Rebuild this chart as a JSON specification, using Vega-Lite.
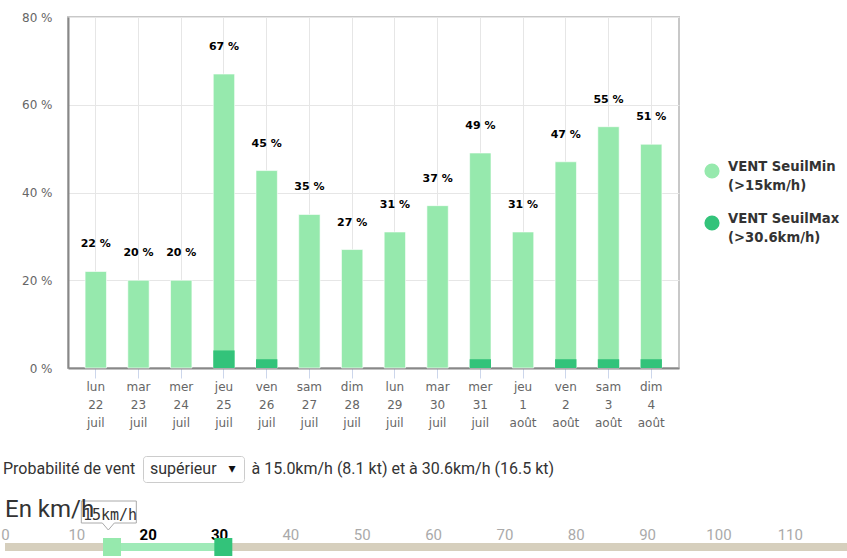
{
  "$schema": "https://vega.github.io/schema/vega-lite/v6.json",
  "padding": {"left": 0, "top": 10, "right": 0, "bottom": 0},
  "background": "#ffffff",
  "spacing": 15,
  "config": {"style": {"guide-label": {"lineHeight": 19}}},
  "vconcat": [
    {
      "spacing": 0,
      "hconcat": [
        {
          "width": 1,
          "height": 1,
          "view": {"stroke": null},
          "data": {"values": []},
          "mark": {"type": "point", "opacity": 0},
          "encoding": {}
        },
        {
          "width": 611,
          "height": 351,
          "view": {"stroke": "#c8c8c8", "strokeWidth": 2},
          "data": {
            "values": [
              {"jour": "lun 22 juil", "min": 22, "max": 0},
              {"jour": "mar 23 juil", "min": 20, "max": 0},
              {"jour": "mer 24 juil", "min": 20, "max": 0},
              {"jour": "jeu 25 juil", "min": 67, "max": 4},
              {"jour": "ven 26 juil", "min": 45, "max": 2},
              {"jour": "sam 27 juil", "min": 35, "max": 0},
              {"jour": "dim 28 juil", "min": 27, "max": 0},
              {"jour": "lun 29 juil", "min": 31, "max": 0},
              {"jour": "mar 30 juil", "min": 37, "max": 0},
              {"jour": "mer 31 juil", "min": 49, "max": 2},
              {"jour": "jeu 1 août", "min": 31, "max": 0},
              {"jour": "ven 2 août", "min": 47, "max": 2},
              {"jour": "sam 3 août", "min": 55, "max": 2},
              {"jour": "dim 4 août", "min": 51, "max": 2}
            ]
          },
          "encoding": {
            "x": {
              "field": "jour",
              "type": "nominal",
              "sort": null,
              "scale": {"paddingInner": 0.5, "paddingOuter": 0.4},
              "axis": {
                "title": null,
                "labelAngle": 0,
                "labelExpr": "split(datum.value, ' ')",
                "labelFont": "DejaVu Sans",
                "labelFontSize": 12,
                "labelColor": "#666666",
                "labelLineHeight": 18,
                "labelPadding": 3,
                "tickColor": "#ccd6eb",
                "tickSize": 10,
                "domainColor": "#888888",
                "domainWidth": 2,
                "grid": true,
                "gridColor": "#e6e6e6",
                "minExtent": 71
              }
            }
          },
          "layer": [
            {
              "mark": {"type": "bar", "stroke": "#ffffff", "strokeWidth": 1, "strokeOpacity": 0.6},
              "encoding": {
                "y": {
                  "field": "min",
                  "type": "quantitative",
                  "scale": {"domain": [0, 80], "nice": false},
                  "axis": {
                    "title": null,
                    "values": [0, 20, 40, 60, 80],
                    "labelExpr": "datum.value + ' %'",
                    "labelFont": "DejaVu Sans",
                    "labelFontSize": 12,
                    "labelColor": "#666666",
                    "ticks": false,
                    "labelPadding": 16,
                    "domainColor": "#888888",
                    "domainWidth": 2,
                    "gridColor": "#e6e6e6",
                    "minExtent": 61
                  }
                },
                "color": {
                  "datum": "VENT SeuilMin|(>15km/h)",
                  "type": "nominal",
                  "scale": {
                    "domain": ["VENT SeuilMin|(>15km/h)", "VENT SeuilMax|(>30.6km/h)"],
                    "range": ["#96e9ad", "#33c37a"]
                  },
                  "legend": {
                    "orient": "none",
                    "legendX": 699,
                    "legendY": 146,
                    "title": null,
                    "padding": 0,
                    "symbolType": "circle",
                    "symbolSize": 230,
                    "symbolStrokeWidth": 0,
                    "symbolOpacity": 1,
                    "labelFont": "DejaVu Sans",
                    "labelFontSize": 13.2,
                    "labelFontWeight": "bold",
                    "labelColor": "#333333",
                    "labelExpr": "split(datum.label, '|')",
                    "labelBaseline": "alphabetic",
                    "labelOffset": 8,
                    "rowPadding": 19
                  }
                }
              }
            },
            {
              "mark": {"type": "bar"},
              "encoding": {
                "y": {"field": "max", "type": "quantitative"},
                "color": {"datum": "VENT SeuilMax|(>30.6km/h)", "type": "nominal"}
              }
            },
            {
              "mark": {
                "type": "text",
                "text": {"expr": "datum.min + ' %'"},
                "dy": -27,
                "font": "DejaVu Sans",
                "fontSize": 11,
                "fontWeight": "bold",
                "color": "#000000"
              },
              "encoding": {
                "y": {"field": "min", "type": "quantitative"}
              }
            }
          ]
        }
      ]
    },
    {
      "spacing": 6,
      "hconcat": [
        {
          "width": 1,
          "height": 26,
          "view": {"stroke": null},
          "data": {"values": [{"t": "Probabilité de vent"}]},
          "mark": {"type": "text", "align": "left", "baseline": "middle", "dx": -2.5, "font": "Roboto", "fontSize": 16, "color": "#333333"},
          "encoding": {"text": {"field": "t"}}
        },
        {
          "width": 101,
          "height": 26,
          "view": {"stroke": "#cccccc", "strokeWidth": 1, "cornerRadius": 3, "fill": "#ffffff"},
          "data": {"values": [{"t": "supérieur", "arrow": "▾"}]},
          "layer": [
            {
              "mark": {"type": "text", "align": "left", "baseline": "middle", "dx": -43.5, "font": "Roboto", "fontSize": 16, "color": "#333333"},
              "encoding": {"text": {"field": "t"}}
            },
            {
              "mark": {"type": "text", "align": "center", "baseline": "middle", "dx": 38.5, "font": "DejaVu Sans", "fontSize": 14, "color": "#111111"},
              "encoding": {"text": {"field": "arrow"}}
            }
          ]
        },
        {
          "width": 1,
          "height": 26,
          "view": {"stroke": null},
          "data": {"values": [{"t": "à 15.0km/h (8.1 kt) et à 30.6km/h (16.5 kt)"}]},
          "mark": {"type": "text", "align": "left", "baseline": "middle", "font": "Roboto", "fontSize": 16, "color": "#333333"},
          "encoding": {"text": {"field": "t"}}
        }
      ]
    },
    {
      "width": 844,
      "height": 8,
      "view": {"fill": "#d6cfbd", "stroke": null},
      "title": {
        "text": "En km/h",
        "anchor": "start",
        "frame": "group",
        "font": "Roboto",
        "fontSize": 24,
        "fontWeight": "normal",
        "color": "#333333",
        "offset": -23
      },
      "layer": [
        {
          "data": {"values": [{"from": 15, "to": 30.6}]},
          "mark": {"type": "rect", "color": "#9feab8"},
          "encoding": {
            "x": {
              "field": "from",
              "type": "quantitative",
              "scale": {"domain": [0, 118.3], "nice": false},
              "axis": {
                "orient": "top",
                "title": null,
                "values": [0, 10, 20, 30, 40, 50, 60, 70, 80, 90, 100, 110],
                "domain": false,
                "ticks": false,
                "grid": false,
                "labelFont": "Roboto",
                "labelFontSize": 15,
                "labelPadding": 1,
                "labelFlush": false,
                "labelColor": {"condition": {"test": "datum.value == 20 || datum.value == 30", "value": "#000000"}, "value": "#aaaaaa"},
                "labelFontWeight": {"condition": {"test": "datum.value == 20 || datum.value == 30", "value": "bold"}, "value": "normal"}
              }
            },
            "x2": {"field": "to"}
          }
        },
        {
          "data": {"values": [{"v": 15}]},
          "mark": {"type": "point", "shape": "square", "filled": true, "size": 324, "opacity": 1, "color": "#96e9ad"},
          "encoding": {
            "x": {"field": "v", "type": "quantitative"}
          }
        },
        {
          "data": {"values": [{"v": 30.6}]},
          "mark": {"type": "point", "shape": "square", "filled": true, "size": 324, "opacity": 1, "color": "#33c37a"},
          "encoding": {
            "x": {"field": "v", "type": "quantitative"}
          }
        },
        {
          "data": {"values": [{"v": 15, "label": "15km/h"}]},
          "mark": {
            "type": "point",
            "shape": "M-3.07,-4.6H2.43V-2.4H0.23L-0.37,-1.7L-0.97,-2.4H-3.07Z",
            "filled": true,
            "fill": "#ffffff",
            "stroke": "#aaaaaa",
            "strokeWidth": 1,
            "size": 400,
            "opacity": 1
          },
          "encoding": {"x": {"field": "v", "type": "quantitative"}}
        },
        {
          "data": {"values": [{"v": 15, "label": "15km/h"}]},
          "mark": {
            "type": "text",
            "font": "DejaVu Sans Mono",
            "fontSize": 15,
            "color": "#333333",
            "baseline": "middle",
            "dy": -32,
            "dx": -2
          },
          "encoding": {
            "x": {"field": "v", "type": "quantitative"},
            "text": {"field": "label"}
          }
        }
      ]
    }
  ]
}
